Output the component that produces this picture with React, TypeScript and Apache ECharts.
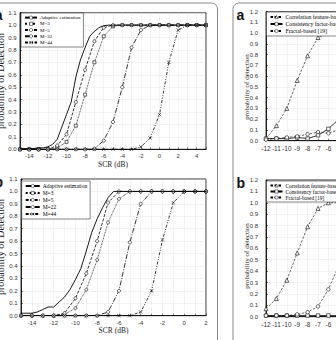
import React, { useEffect, useRef } from "react";
import * as echarts from "echarts";

// ---------- data: left top panel ----------
const topSCR = [-15, -14, -13, -12, -11, -10, -9, -8, -7, -6, -5, -4, -3, -2, -1, 0, 1, 2, 3, 4, 5];
const topM3 = [0, 0, 0, 0, 0.01, 0.06, 0.19, 0.44, 0.7, 0.91, 0.99, 1, 1, 1, 1, 1, 1, 1, 1, 1, 1];
const topM5 = [0, 0, 0, 0, 0.03, 0.12, 0.38, 0.64, 0.87, 0.98, 1, 1, 1, 1, 1, 1, 1, 1, 1, 1, 1];
const topM22 = [0, 0, 0, 0, 0, 0, 0, 0, 0.005, 0.07, 0.22, 0.5, 0.82, 0.96, 1, 1, 1, 1, 1, 1, 1];
const topM44 = [0, 0, 0, 0, 0, 0, 0, 0, 0, 0, 0, 0, 0, 0.02, 0.09, 0.28, 0.7, 0.96, 1, 1, 1];
const topAdaptSCR = [-15, -14, -13, -12.5, -12, -11.5, -11, -10.5, -10, -9.5, -9, -8.5, -8, -7.5, -7, -6.5, -6, -5.5, -5, 5];
const topAdapt = [0.005, 0.005, 0.01, 0.012, 0.02, 0.04, 0.08, 0.18, 0.28, 0.38, 0.58, 0.72, 0.82, 0.91, 0.95, 0.98, 0.995, 1, 1, 1];

// ---------- data: left bottom panel ----------
const botSCR = [-15, -14, -13, -12, -11, -10, -9, -8, -7, -6, -5, -4, -3, -2, -1, 0, 1, 2];
const botM3 = [0, 0, 0, 0, 0.01, 0.06, 0.21, 0.45, 0.75, 0.94, 1, 1, 1, 1, 1, 1, 1, 1];
const botM5 = [0, 0, 0, 0, 0.02, 0.14, 0.34, 0.6, 0.91, 1, 1, 1, 1, 1, 1, 1, 1, 1];
const botM22 = [0, 0, 0, 0, 0, 0, 0, 0, 0.03, 0.2, 0.59, 0.9, 1, 1, 1, 1, 1, 1];
const botM44 = [0, 0, 0, 0, 0, 0, 0, 0, 0, 0, 0, 0.03, 0.2, 0.61, 0.91, 1, 1, 1];
const botAdaptSCR = [-15, -14, -13.5, -13, -12.5, -12, -11.5, -11, -10.5, -10, -9.5, -9, -8.5, -8, -7.5, -7, -6.5, 2];
const botAdapt = [0.02, 0.02, 0.03, 0.05, 0.07, 0.07, 0.11, 0.15, 0.21, 0.29, 0.38, 0.52, 0.67, 0.78, 0.87, 0.95, 1, 1];

// ---------- data: right panels (a, b) ----------
const rightSCR = [-12, -11, -10, -9, -8, -7, -6, -5];
const aCorr = [0.02, 0.14, 0.3, 0.56, 0.79, 0.96, 1, 1];
const aCons = [0.02, 0.02, 0.02, 0.03, 0.02, 0.05, 0.11, 0.2];
const aFrac = [0.01, 0.02, 0.03, 0.04, 0.06, 0.08, 0.07, 0.1];
const bCorr = [0.07, 0.16, 0.32, 0.56, 0.79, 0.95, 1, 1];
const bCons = [0.01, 0.01, 0.01, 0.01, 0.01, 0.01, 0.01, 0.01];
const bFrac = [0.01, 0.01, 0.01, 0.02, 0.04, 0.09, 0.24, 0.45];

const leftNames = ["Adaptive estimation", "M=3", "M=5", "M=22", "M=44"];
const rightNames = ["Correlation feature-based", "Consistency factor-based", "Fractal-based [19]"];
const xTitle = "SCR (dB)";
const leftYTitle = "probability of Detection";
const rightYTitle = "probability of detection";

const SANS = "Liberation Sans";
const SERIF = "Liberation Serif";
const XSYM = "path://M0 0L10 10M10 0L0 10";
const CHART_W = 400;

function ser(name: string, xs: number[], ys: number[], idx: number, o: any = {}) {
  return {
    type: "line",
    name,
    xAxisIndex: idx,
    yAxisIndex: idx,
    data: xs.map((x, i) => [x, ys[i]]),
    symbol: o.symbol ?? "none",
    symbolSize: o.size ?? 3,
    showSymbol: true,
    color: "#000",
    lineStyle: { color: "#000", width: o.width ?? 0.8, type: o.dash ?? "solid" },
    itemStyle: { color: "#fff", borderColor: "#000", borderWidth: 0.6 },
    emphasis: { disabled: true },
    z: o.z ?? 3,
  };
}

function xAxis(idx: number, min: number, max: number, even: boolean, fs: number, name?: string) {
  return {
    type: "value",
    gridIndex: idx,
    min,
    max,
    interval: 1,
    name: name ?? "",
    nameLocation: "middle",
    nameGap: 11,
    nameTextStyle: { fontFamily: SERIF, fontSize: 7.5, color: "#222" },
    axisLine: { show: true, onZero: false, lineStyle: { color: "#000", width: 0.8 } },
    axisTick: { show: true, inside: true, length: 2, lineStyle: { color: "#000", width: 0.5 } },
    axisLabel: {
      fontFamily: SANS,
      fontSize: fs,
      color: "#333",
      margin: 4,
      hideOverlap: false,
      formatter: (v: number) => (even ? (Math.abs(v % 2) === 0 ? String(v) : "") : String(v)),
    },
    splitLine: { show: true, lineStyle: { color: "#cfcfcf", width: 0.5, type: "dotted" } },
  };
}

function yAxis(idx: number, max: number, margin: number) {
  return {
    type: "value",
    gridIndex: idx,
    min: 0,
    max,
    interval: 0.1,
    axisLine: { show: true, onZero: false, lineStyle: { color: "#000", width: 0.8 } },
    axisTick: { show: true, inside: true, length: 2, lineStyle: { color: "#000", width: 0.5 } },
    axisLabel: {
      fontFamily: SANS,
      fontSize: 6,
      color: "#333",
      margin,
      formatter: (v: number) => v.toFixed(1),
    },
    splitLine: { show: true, lineStyle: { color: "#cfcfcf", width: 0.5, type: "dotted" } },
  };
}

function legend(left: number, top: number, names: string[], fs: number, lh: number, iw: number) {
  return {
    left,
    top,
    orient: "vertical",
    data: names,
    itemWidth: iw,
    itemHeight: 4,
    itemGap: 1,
    padding: [2, 3, 2, 3],
    borderColor: "#333",
    borderWidth: 0.6,
    backgroundColor: "#fff",
    selectedMode: false,
    itemStyle: { color: "#fff", borderColor: "#000", borderWidth: 0.5 },
    textStyle: { fontFamily: SERIF, fontSize: fs, lineHeight: lh, color: "#000", padding: [0, 0, 0, -2] },
  };
}

function txt(x: number, y: number, text: string, font: string, align: string, rot = 0) {
  return {
    type: "text",
    x,
    y,
    rotation: rot,
    silent: true,
    style: { text, font, fill: "#111", align, verticalAlign: "middle", textAlign: align, textVerticalAlign: "middle" },
  };
}

export default function App() {
  const ref = useRef<HTMLDivElement>(null);
  useEffect(() => {
    const chart = echarts.init(ref.current!, null, { renderer: "svg", width: CHART_W, height: 340 });
    const gridStyle = { show: true, borderColor: "#000", borderWidth: 0.8, backgroundColor: "transparent" };
    const option: any = {
      animation: false,
      backgroundColor: "#fff",
      grid: [
        { left: 20, top: 12.7, width: 186, height: 136.6, ...gridStyle },
        { left: 21, top: 179, width: 185, height: 136.7, ...gridStyle },
        { left: 266, top: 11.7, width: 124.8, height: 129, ...gridStyle },
        { left: 266, top: 180, width: 124.8, height: 136.7, ...gridStyle },
      ],
      xAxis: [
        xAxis(0, -15, 5, true, 6, xTitle),
        xAxis(1, -15, 2, true, 6, xTitle),
        xAxis(2, -12, 0, false, 6.5),
        xAxis(3, -12, 0, false, 6.5),
      ],
      yAxis: [yAxis(0, 1.1, 3.5), yAxis(1, 1.1, 3.5), yAxis(2, 1.2, 8), yAxis(3, 1.2, 8)],
      legend: [
        legend(21, 13, leftNames, 5, 5.2, 12),
        legend(21.7, 181, leftNames, 5.5, 5.7, 14),
        legend(266.5, 12, rightNames, 5.7, 4.6, 12),
        legend(266.5, 181, rightNames, 5.3, 4.6, 12),
      ],
      series: [
        ser("Adaptive estimation", topAdaptSCR, topAdapt, 0, { width: 0.9, z: 4 }),
        ser("M=3", topSCR, topM3, 0, { symbol: "rect", size: 3, dash: "dotted" }),
        ser("M=5", topSCR, topM5, 0, { symbol: "circle", size: 3.2, dash: [3, 1.5] }),
        ser("M=22", topSCR, topM22, 0, { symbol: "circle", size: 3.2, dash: [5, 1.5, 1, 1.5] }),
        ser("M=44", topSCR, topM44, 0, { symbol: XSYM, size: 3.2, dash: [3, 1.5, 1, 1.5, 1, 1.5] }),

        ser("Adaptive estimation", botAdaptSCR, botAdapt, 1, { width: 0.9, z: 4 }),
        ser("M=3", botSCR, botM3, 1, { symbol: "circle", size: 3, dash: "dotted" }),
        ser("M=5", botSCR, botM5, 1, { symbol: "circle", size: 3.2, dash: [3, 1.5] }),
        ser("M=22", botSCR, botM22, 1, { symbol: "circle", size: 3.2, dash: [5, 1.5, 1, 1.5] }),
        ser("M=44", botSCR, botM44, 1, { symbol: XSYM, size: 3.2, dash: [3, 1.5, 1, 1.5, 1, 1.5] }),

        ser("Correlation feature-based", rightSCR, aCorr, 2, { symbol: "triangle", size: 4, dash: [2.5, 1.5], width: 0.6 }),
        ser("Consistency factor-based", rightSCR, aCons, 2, { symbol: "rect", size: 3.5, width: 0.8 }),
        ser("Fractal-based [19]", rightSCR, aFrac, 2, { symbol: "circle", size: 3.5, dash: [2.5, 1.5], width: 0.6 }),

        ser("Correlation feature-based", rightSCR, bCorr, 3, { symbol: "triangle", size: 4, dash: [2.5, 1.5], width: 0.6 }),
        ser("Consistency factor-based", rightSCR, bCons, 3, { symbol: "rect", size: 3.5, width: 0.8 }),
        ser("Fractal-based [19]", rightSCR, bFrac, 3, { symbol: "circle", size: 3.5, dash: [2.5, 1.5], width: 0.6 }),
      ],
      graphic: [
        { type: "rect", silent: true, shape: { x: -10, y: 3, width: 227.5, height: 400, r: 6 }, style: { fill: "none", stroke: "#8a8a8a", lineWidth: 1 } },
        { type: "rect", silent: true, shape: { x: 233, y: 3, width: 200, height: 400, r: 6 }, style: { fill: "none", stroke: "#8a8a8a", lineWidth: 1 } },
        txt(2.5, 14.5, "a", "bold 14px Liberation Sans", "right"),
        txt(3, 182, "b", "bold 14px Liberation Sans", "right"),
        txt(236.5, 14.5, "a", "bold 14px Liberation Sans", "left"),
        txt(236.5, 182.5, "b", "bold 14px Liberation Sans", "left"),
        txt(0, 81, leftYTitle, "10px Liberation Serif", "center", Math.PI / 2),
        txt(0, 247, leftYTitle, "10px Liberation Serif", "center", Math.PI / 2),
        txt(247, 87, rightYTitle, "7px Liberation Serif", "center", Math.PI / 2),
        txt(247, 256, rightYTitle, "7px Liberation Serif", "center", Math.PI / 2),
      ],
    };
    chart.setOption(option);
    return () => chart.dispose();
  }, []);
  return (
    <div
      ref={ref}
      style={{ position: "fixed", left: 0, top: 0, width: CHART_W, height: 340, background: "#fff" }}
    />
  );
}
